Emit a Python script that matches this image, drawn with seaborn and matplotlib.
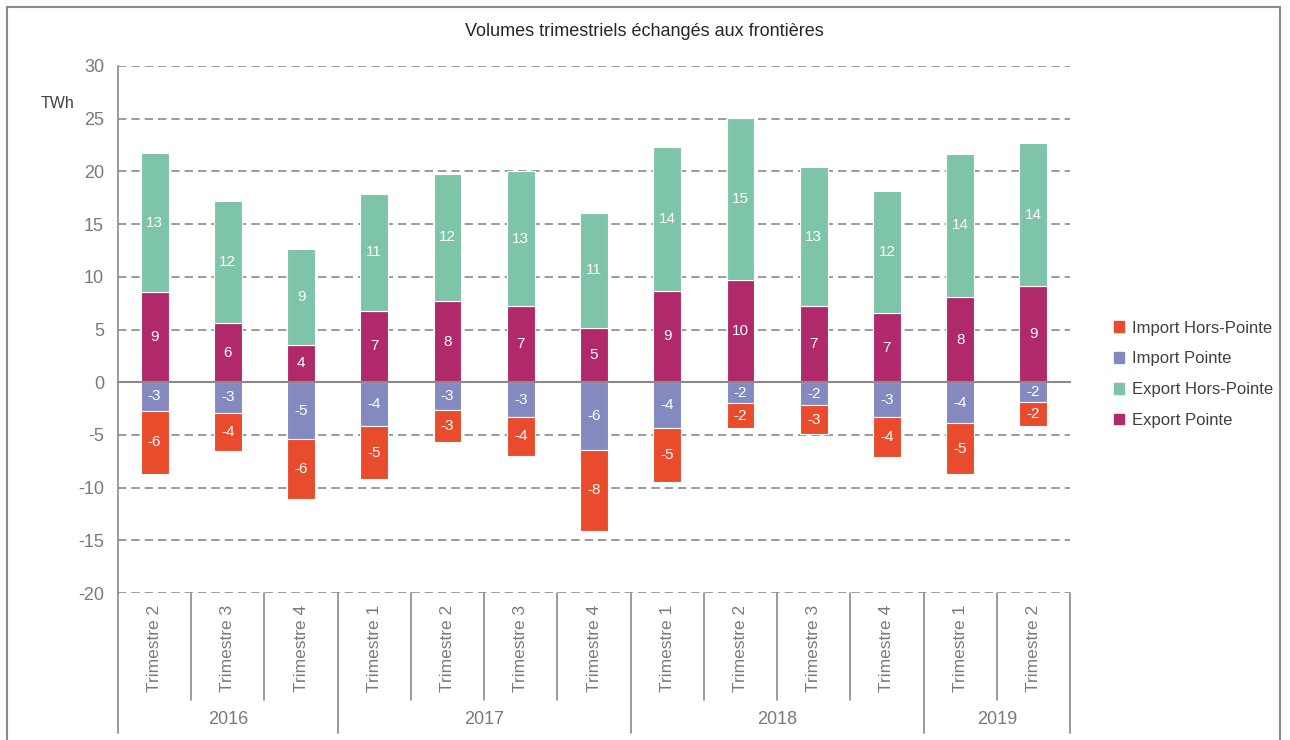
import pandas as pd
import numpy as np
import matplotlib.pyplot as plt
import matplotlib.transforms as mtransforms
from matplotlib.patches import Rectangle, Patch
import seaborn as sns

sns.set_style('white')
plt.rcParams['font.family'] = ['Liberation Sans', 'DejaVu Sans']
plt.rcParams['axes.unicode_minus'] = False

# %% data
years = ['2016', '2016', '2016', '2017', '2017', '2017', '2017',
         '2018', '2018', '2018', '2018', '2019', '2019']
quarters = ['Trimestre 2', 'Trimestre 3', 'Trimestre 4',
            'Trimestre 1', 'Trimestre 2', 'Trimestre 3', 'Trimestre 4',
            'Trimestre 1', 'Trimestre 2', 'Trimestre 3', 'Trimestre 4',
            'Trimestre 1', 'Trimestre 2']
export_pointe = [8.6, 5.6, 3.55, 6.8, 7.7, 7.2, 5.1, 8.7, 9.7, 7.2, 6.55, 8.1, 9.1]
export_hors_pointe = [13.1, 11.6, 9.1, 11.1, 12.1, 12.8, 11.0, 13.6, 15.4, 13.2, 11.6, 13.55, 13.6]
import_pointe = [-2.7, -2.9, -5.4, -4.2, -2.6, -3.3, -6.4, -4.3, -2.0, -2.2, -3.3, -3.9, -1.9]
import_hors_pointe = [-6.0, -3.6, -5.7, -5.0, -3.1, -3.7, -7.7, -5.2, -2.35, -2.7, -3.8, -4.8, -2.3]

c_exp_p = '#B0296B'
c_exp_hp = '#7EC4A9'
c_imp_p = '#8489C0'
c_imp_hp = '#E84C2C'
grey = '#8a8a8a'

df = pd.DataFrame({
    'periode': [y + ' ' + q for y, q in zip(years, quarters)],
    'Export Pointe': export_pointe,
    'Export Hors-Pointe': export_hors_pointe,
    'Import Pointe': import_pointe,
    'Import Hors-Pointe': import_hors_pointe,
})

# %% plot
fig = plt.figure(figsize=(12.9, 7.4), dpi=100)
ax = fig.add_axes([118 / 1290, 1 - 593 / 740, 952 / 1290, 527 / 740])

bar_kw = dict(errorbar=None, width=0.38, saturation=1, edgecolor='white', linewidth=0.8, ax=ax)
sns.barplot(data=df, x='periode', y='Export Pointe', color=c_exp_p, label='Export Pointe', **bar_kw)
sns.barplot(data=df, x='periode', y='Export Hors-Pointe', color=c_exp_hp, bottom=df['Export Pointe'],
            label='Export Hors-Pointe', **bar_kw)
sns.barplot(data=df, x='periode', y='Import Pointe', color=c_imp_p, label='Import Pointe', **bar_kw)
sns.barplot(data=df, x='periode', y='Import Hors-Pointe', color=c_imp_hp, bottom=df['Import Pointe'],
            label='Import Hors-Pointe', **bar_kw)

for cont in ax.containers:
    vals = [b.get_height() for b in cont]
    ax.bar_label(cont, labels=[f'{v:.0f}' for v in vals], label_type='center',
                 color='white', fontsize=11)

# axes styling
ax.set_ylim(-20, 30)
ax.set_xlim(-0.5, 12.5)
ax.set_yticks(np.arange(-20, 31, 5))
ax.tick_params(axis='y', length=6, width=1.2, color=grey, labelcolor='#7a7a7a', labelsize=13, pad=4)
ax.yaxis.grid(True, linestyle=(0, (5, 3)), color=grey, linewidth=1.2)
ax.set_axisbelow(True)
ax.set_xlabel('')
ax.set_ylabel('')
for s in ['top', 'right']:
    ax.spines[s].set_visible(False)
ax.spines['left'].set_color(grey)
ax.spines['left'].set_linewidth(1.2)
ax.spines['bottom'].set_position(('data', 0))
ax.spines['bottom'].set_color(grey)
ax.spines['bottom'].set_linewidth(1.5)
ax.spines['bottom'].set_zorder(3)
ax.set_xticks(np.arange(-0.5, 13, 1))
ax.set_xticklabels([])
ax.tick_params(axis='x', length=5, width=1.2, color=grey, direction='out')

# category axis below
trans = mtransforms.blended_transform_factory(ax.transData, ax.transAxes)
ah = 527.0
for i, q in enumerate(quarters):
    ax.text(i, -55 / ah, q, rotation=90, ha='center', va='center', transform=trans,
            color='#7a7a7a', fontsize=12.5)
for i in range(len(quarters) + 1):
    x = i - 0.5
    is_year = i == 0 or i == len(quarters) or years[i] != years[i - 1]
    depth = -140 / ah if is_year else -107 / ah
    ax.plot([x, x], [0, depth], transform=trans, color=grey, lw=1.2, clip_on=False)
year_names = list(dict.fromkeys(years))
for y in year_names:
    idx = [i for i, v in enumerate(years) if v == y]
    ax.text(np.mean(idx), -127 / ah, y, ha='center', va='center', transform=trans,
            color='#7a7a7a', fontsize=13)

ax.text(-61 / 952, (593 - 103) / ah, 'TWh', ha='center', va='center', transform=ax.transAxes,
        color='#404040', fontsize=11.5)

# legend
handles = [Patch(color=c_imp_hp, label='Import Hors-Pointe'),
           Patch(color=c_imp_p, label='Import Pointe'),
           Patch(color=c_exp_hp, label='Export Hors-Pointe'),
           Patch(color=c_exp_p, label='Export Pointe')]
ax.legend(handles=handles, loc='center left', bbox_to_anchor=(1.03, 0.415), frameon=False,
          handlelength=0.6, handleheight=0.6, handletextpad=0.5, labelspacing=0.95,
          fontsize=12, labelcolor='#404040')

fig.text(644 / 1290, 1 - 32 / 740, 'Volumes trimestriels échangés aux frontières',
         ha='center', va='center', fontsize=13, color='#262626')

fig.patches.append(Rectangle((7 / 1290, -0.05), 1273 / 1290, 1.05 - 7 / 740, transform=fig.transFigure,
                             fill=False, edgecolor=grey, linewidth=1.5))

plt.savefig('out.png', dpi=100)
